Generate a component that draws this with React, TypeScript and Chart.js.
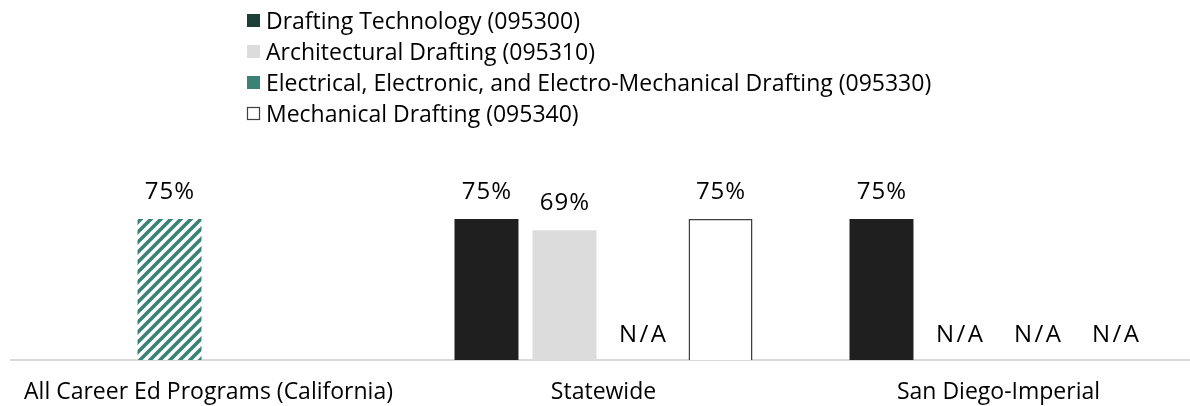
import React, { useEffect, useRef } from "react";
import { Chart, registerables } from "chart.js";

Chart.register(...registerables);

// ---- data ----
const categories = ["All Career Ed Programs (California)", "Statewide", "San Diego-Imperial"];
const seriesNames = [
  "Drafting Technology (095300)",
  "Architectural Drafting (095310)",
  "Electrical, Electronic, and Electro-Mechanical Drafting (095330)",
  "Mechanical Drafting (095340)",
];
type V = number | "N/A" | null;
const draftingTechnology: V[] = [null, 75, 75];
const architecturalDrafting: V[] = [null, 69, "N/A"];
const electricalDrafting: V[] = [null, "N/A", "N/A"];
const mechanicalDrafting: V[] = [null, 75, "N/A"];
const allCareerEdPrograms: V[] = [75, null, null];

// ---- styles ----
const FONT = "'Open Sans', Lato, sans-serif";
const barColors = ["#1f1f1f", "#dcdcdc", "#3a8276", "#ffffff"];
const legendColors = ["#1d3d37", "#dcdcdc", "#3a8276", "#ffffff"];
const teal = "#3a8276";

function makeHatch(): CanvasPattern | string {
  const s = 10;
  const c = document.createElement("canvas");
  c.width = s;
  c.height = s;
  const g = c.getContext("2d");
  if (!g) return teal;
  g.fillStyle = "#ffffff";
  g.fillRect(0, 0, s, s);
  g.strokeStyle = teal;
  g.lineWidth = 3.6;
  g.lineCap = "square";
  const lines = [
    [0, s, s, 0],
    [-s / 2, s / 2, s / 2, -s / 2],
    [s / 2, s * 1.5, s * 1.5, s / 2],
  ];
  for (const [a, b, cc, d] of lines) {
    g.beginPath();
    g.moveTo(a, b);
    g.lineTo(cc, d);
    g.stroke();
  }
  const p = g.createPattern(c, "repeat");
  return p || teal;
}

const toNum = (arr: V[]) => arr.map((v) => (typeof v === "number" ? v : null));

export default function App() {
  const ref = useRef<HTMLCanvasElement | null>(null);

  useEffect(() => {
    document.body.style.margin = "0";
    document.body.style.overflow = "hidden";
    const canvas = ref.current;
    if (!canvas) return;

    const rawSeries: V[][] = [
      draftingTechnology,
      architecturalDrafting,
      electricalDrafting,
      mechanicalDrafting,
      allCareerEdPrograms,
    ];

    const labelPlugin = {
      id: "valueLabels",
      afterDatasetsDraw(chart: any) {
        const ctx = chart.ctx;
        ctx.save();
        ctx.fillStyle = "#000";
        ctx.textAlign = "center";
        ctx.textBaseline = "middle";
        rawSeries.forEach((arr, i) => {
          const meta = chart.getDatasetMeta(i);
          arr.forEach((v, j) => {
            const el = meta.data[j];
            if (!el) return;
            if (typeof v === "number") {
              ctx.font = `24px ${FONT}`;
              (ctx as any).letterSpacing = "1px";
              ctx.fillText(`${v}%`, el.x + 0.5, el.y - 27);
            } else if (v === "N/A") {
              ctx.font = `24px ${FONT}`;
              (ctx as any).letterSpacing = "2.5px";
              ctx.fillText("N/A", el.x + 1.25, chart.chartArea.bottom - 25);
            }
          });
        });
        ctx.restore();
      },
    };

    const legendPlugin = {
      id: "listLegend",
      afterDraw(chart: any) {
        const ctx = chart.ctx;
        ctx.save();
        ctx.font = `23px ${FONT}`;
        ctx.textBaseline = "middle";
        ctx.textAlign = "left";
        const x0 = 247;
        const rowY = [21, 52, 83, 114];
        seriesNames.forEach((name, i) => {
          const y = rowY[i];
          ctx.fillStyle = legendColors[i];
          ctx.fillRect(x0, y - 7, 13, 13);
          if (i === 3) {
            ctx.strokeStyle = "#404040";
            ctx.lineWidth = 1.2;
            ctx.strokeRect(x0 + 0.5, y - 6.5, 12, 12);
          }
          ctx.fillStyle = "#000";
          ctx.fillText(name, x0 + 19, y + 1);
        });
        ctx.restore();
      },
    };

    const hatch = makeHatch();

    const chart = new Chart(canvas, {
      type: "bar",
      data: {
        labels: categories,
        datasets: [
          { label: seriesNames[0], data: toNum(draftingTechnology), backgroundColor: barColors[0], stack: "s0" },
          { label: seriesNames[1], data: toNum(architecturalDrafting), backgroundColor: barColors[1], stack: "s1" },
          { label: seriesNames[2], data: toNum(electricalDrafting), backgroundColor: barColors[2], stack: "s2" },
          {
            label: seriesNames[3],
            data: toNum(mechanicalDrafting),
            backgroundColor: barColors[3],
            borderColor: "#404040",
            borderWidth: 1.5,
            stack: "s3",
          },
          { label: "All Career Ed Programs", data: toNum(allCareerEdPrograms), backgroundColor: hatch as any, stack: "s1" },
        ] as any,
      },
      options: {
        responsive: false,
        animation: false,
        layout: { padding: { top: 172, left: 11, right: 4, bottom: 0 } },
        datasets: { bar: { categoryPercentage: 0.79, barPercentage: 0.82 } } as any,
        plugins: { legend: { display: false }, tooltip: { enabled: false } },
        scales: {
          x: {
            grid: { display: false, drawTicks: false },
            border: { display: true, color: "#d9d9d9", width: 2 },
            ticks: { color: "#000", font: { family: FONT, size: 23 }, padding: 19, maxRotation: 0, autoSkip: false },
            afterFit: (scale: any) => {
              scale.height = 46;
            },
          },
          y: { display: false, min: 0, max: 100, stacked: true },
        },
      } as any,
      plugins: [labelPlugin, legendPlugin],
    });

    return () => chart.destroy();
  }, []);

  return (
    <div style={{ width: 1190, height: 406, overflow: "hidden", background: "#fff" }}>
      <canvas ref={ref} width={1200} height={406} style={{ display: "block" }} />
    </div>
  );
}
